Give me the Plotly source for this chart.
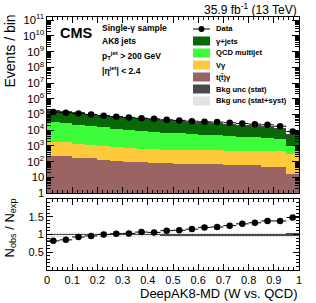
import plotly.graph_objects as go

# ---------------- data ----------------
bin_centers = [0.025, 0.075, 0.125, 0.175, 0.225, 0.275, 0.325, 0.375, 0.425, 0.475,
               0.525, 0.575, 0.625, 0.675, 0.725, 0.775, 0.825, 0.875, 0.925, 0.975]
bin_halfwidth = [0.025] * 20

data = [141300, 128800, 114800, 100000, 81300, 70800, 64600, 57500, 52500, 45700,
        41700, 37200, 33900, 32400, 29500, 26300, 24000, 21900, 17800, 8130]
gjets = [140600, 123500, 101200, 85150, 66140, 56750, 52190, 44710, 41610, 34290,
         31070, 26670, 23240, 22160, 19430, 16430, 14560, 12690, 10060, 4500]
qcd = [29760, 26520, 21010, 17850, 14180, 11760, 9730, 8440, 7330, 6340,
       5620, 5090, 4490, 4060, 3670, 3300, 2980, 2670, 2340, 684]
vgamma = [1628, 1446, 1206, 1044, 829, 715, 641, 583, 538, 499,
          478, 468, 457, 447, 436, 438, 430, 442, 437, 299]
ttgamma = [234, 214, 174, 158, 126, 117, 100, 93, 79, 76,
           72, 69, 68, 66, 65, 63, 60, 48, 42, 17]
stat_rel = [0.012, 0.012, 0.012, 0.012, 0.013, 0.013, 0.013, 0.014, 0.014, 0.015,
            0.015, 0.016, 0.016, 0.017, 0.017, 0.018, 0.019, 0.020, 0.021, 0.030]
syst_rel = [0.08, 0.08, 0.08, 0.08, 0.08, 0.08, 0.08, 0.08, 0.08, 0.08,
            0.08, 0.08, 0.08, 0.08, 0.08, 0.08, 0.08, 0.08, 0.08, 0.09]

x_tickvals = [0, 0.1, 0.2, 0.3, 0.4, 0.5, 0.6, 0.7, 0.8, 0.9, 1.0]
x_ticktext = ["0", "0.1", "0.2", "0.3", "0.4", "0.5", "0.6", "0.7", "0.8", "0.9", "1"]
r_tickvals = [0.5, 1.0, 1.5]
r_ticktext = ["0.5", "1", "1.5"]

components = [
    ("t(t̄)γ", ttgamma, "#9a6464"),
    ("Vγ", vgamma, "#fec93a"),
    ("QCD multijet", qcd, "#3cfc3c"),
    ("γ+jets", gjets, "#086808"),
]

# ---------------- derived ----------------
n = len(bin_centers)
total = [ttgamma[i] + vgamma[i] + qcd[i] + gjets[i] for i in range(n)]
ratio = [data[i] / total[i] for i in range(n)]
width = [2 * h for h in bin_halfwidth]

FONT = "Liberation Sans"
fig = go.Figure()

# stacked histogram (explicit cumulative bases, overlay mode)
cum = [0.0] * n
for name, vals, col in components:
    base = [c if c > 0 else 0.01 for c in cum]
    fig.add_trace(go.Bar(x=bin_centers, y=[vals[i] + cum[i] - base[i] for i in range(n)],
                         base=base, width=width, marker=dict(color=col, line=dict(width=0)),
                         xaxis="x", yaxis="y", showlegend=False, name=name))
    cum = [cum[i] + vals[i] for i in range(n)]

# uncertainty bands on top panel
fig.add_trace(go.Bar(x=bin_centers, y=[2 * syst_rel[i] * total[i] for i in range(n)],
                     base=[(1 - syst_rel[i]) * total[i] for i in range(n)], width=width,
                     marker=dict(color="rgba(0,0,0,0)", line=dict(width=0),
                                 pattern=dict(shape=".", fgcolor="#b4b4b4", bgcolor="rgba(0,0,0,0)",
                                              size=3, solidity=0.4)),
                     xaxis="x", yaxis="y", showlegend=False))
fig.add_trace(go.Bar(x=bin_centers, y=[2 * stat_rel[i] * total[i] for i in range(n)],
                     base=[(1 - stat_rel[i]) * total[i] for i in range(n)], width=width,
                     marker=dict(color="#4a4a4a", line=dict(width=0)),
                     xaxis="x", yaxis="y", showlegend=False))

# data points top
fig.add_trace(go.Scatter(x=bin_centers, y=data, mode="markers",
                         marker=dict(color="black", size=6.5),
                         error_x=dict(type="data", array=bin_halfwidth, width=0, thickness=1, color="black"),
                         xaxis="x", yaxis="y", showlegend=False))

# ratio panel bands
fig.add_trace(go.Bar(x=bin_centers, y=[2 * s for s in syst_rel], base=[1 - s for s in syst_rel],
                     width=width,
                     marker=dict(color="rgba(0,0,0,0)", line=dict(width=0),
                                 pattern=dict(shape=".", fgcolor="#b4b4b4", bgcolor="rgba(0,0,0,0)",
                                              size=3, solidity=0.4)),
                     xaxis="x2", yaxis="y2", showlegend=False))
fig.add_trace(go.Bar(x=bin_centers, y=[2 * s for s in stat_rel], base=[1 - s for s in stat_rel],
                     width=width, marker=dict(color="#4a4a4a", line=dict(width=0)),
                     xaxis="x2", yaxis="y2", showlegend=False))
fig.add_trace(go.Scatter(x=bin_centers, y=ratio, mode="markers",
                         marker=dict(color="black", size=6.5),
                         error_x=dict(type="data", array=bin_halfwidth, width=0, thickness=1, color="black"),
                         xaxis="x2", yaxis="y2", showlegend=False))

# ---------------- layout ----------------
L, R, T, B, W, H = 47, 17, 17, 33, 316, 303
PW, PH = W - L - R, H - T - B


def px(xp):
    return (xp - L) / PW


def py(yp):
    return (H - B - yp) / PH


top_dom = [py(193), 1.0]
bot_dom = [0.0, py(199)]

axis_common = dict(showline=True, linecolor="black", linewidth=1, mirror="allticks",
                   ticks="inside", tickcolor="black", showgrid=False, zeroline=False)

fig.update_layout(
    width=W, height=H, margin=dict(l=L, r=R, t=T, b=B, pad=0),
    paper_bgcolor="white", plot_bgcolor="white", barmode="overlay", bargap=0,
    font=dict(family=FONT, color="black"),
    xaxis=dict(domain=[0, 1], anchor="y", range=[0, 1], matches="x2", showticklabels=False,
               tickvals=x_tickvals, ticklen=6,
               minor=dict(ticks="inside", dtick=0.02, ticklen=3, tickcolor="black"),
               **axis_common),
    xaxis2=dict(domain=[0, 1], anchor="y2", range=[0, 1], tickvals=x_tickvals, ticktext=x_ticktext,
                ticklen=6, tickfont=dict(size=11),
                minor=dict(ticks="inside", dtick=0.02, ticklen=3, tickcolor="black"),
                **axis_common),
    yaxis=dict(domain=top_dom, anchor="x", type="log", range=[0, 11.2], dtick=1,
               exponentformat="power", tickfont=dict(size=9), ticklen=7,
               minor=dict(ticks="inside", dtick="D1", ticklen=4, tickcolor="black"),
               **axis_common),
    yaxis2=dict(domain=bot_dom, anchor="x2", range=[0, 2], tickvals=r_tickvals, ticktext=r_ticktext,
                tickfont=dict(size=11), ticklen=6,
                minor=dict(ticks="inside", dtick=0.1, ticklen=3, tickcolor="black"),
                **axis_common),
)

ann = []
shapes = []
ann.append(dict(text="<b>CMS</b>", x=px(58), y=py(33), xref="paper", yref="paper",
                xanchor="left", yanchor="middle", showarrow=False, font=dict(size=14.5, family=FONT)))
info = [("<b>Single-γ sample</b>", 28), ("<b>AK8 jets</b>", 41),
        ("<b>p<sub>T</sub><sup>jet</sup> > 200 GeV</b>", 55), ("<b>|η<sup>jet</sup>| < 2.4</b>", 70)]
for t, yy in info:
    ann.append(dict(text=t, x=px(100), y=py(yy), xref="paper", yref="paper", xanchor="left",
                    yanchor="middle", showarrow=False, font=dict(size=8.5, family=FONT)))
ann.append(dict(text="35.9 fb<sup>-1</sup> (13 TeV)", x=1.0, y=py(9), xref="paper", yref="paper",
                xanchor="right", yanchor="middle", showarrow=False, font=dict(size=12, family=FONT)))
ann.append(dict(text="Events / bin", x=px(9), y=py(13), xref="paper", yref="paper", textangle=-90,
                xanchor="center", yanchor="top", showarrow=False, font=dict(size=14, family=FONT)))
ann.append(dict(text="N<sub>obs</sub> / N<sub>exp</sub>", x=px(10), y=py(197), xref="paper", yref="paper",
                textangle=-90, xanchor="center", yanchor="top", showarrow=False,
                font=dict(size=13, family=FONT)))
ann.append(dict(text="DeepAK8-MD (W vs. QCD)", x=1.0, y=py(293), xref="paper", yref="paper",
                xanchor="right", yanchor="middle", showarrow=False, font=dict(size=13, family=FONT)))

# legend (manual)
leg = [("Data", None), ("γ+jets", "#086808"), ("QCD multijet", "#3cfc3c"), ("Vγ", "#fec93a"),
       ("t(t̄)γ", "#9a6464"), ("Bkg unc (stat)", "#4a4a4a"), ("Bkg unc (stat+syst)", "#e2e2e2")]
x0b, x1b, xt = 193, 210, 214
for i, (lab, col) in enumerate(leg):
    yc = 29 + 12 * i
    ann.append(dict(text="<b>" + lab + "</b>", x=px(xt), y=py(yc), xref="paper", yref="paper",
                    xanchor="left", yanchor="middle", showarrow=False, font=dict(size=7.6, family=FONT)))
    if col is None:
        shapes.append(dict(type="line", xref="paper", yref="paper", x0=px(x0b), x1=px(x1b),
                           y0=py(yc), y1=py(yc), line=dict(color="black", width=1)))
        shapes.append(dict(type="circle", xref="paper", yref="paper", x0=px(198.5), x1=px(204.5),
                           y0=py(yc - 3), y1=py(yc + 3), fillcolor="black", line=dict(width=0)))
    else:
        shapes.append(dict(type="rect", xref="paper", yref="paper", x0=px(x0b), x1=px(x1b),
                           y0=py(yc - 4.5), y1=py(yc + 4.5), fillcolor=col, line=dict(width=0)))

fig.update_layout(annotations=ann, shapes=shapes)
fig.write_html("out.html", config={"displayModeBar": False},
               post_script="document.body.style.margin='0';document.body.style.padding='0';")
